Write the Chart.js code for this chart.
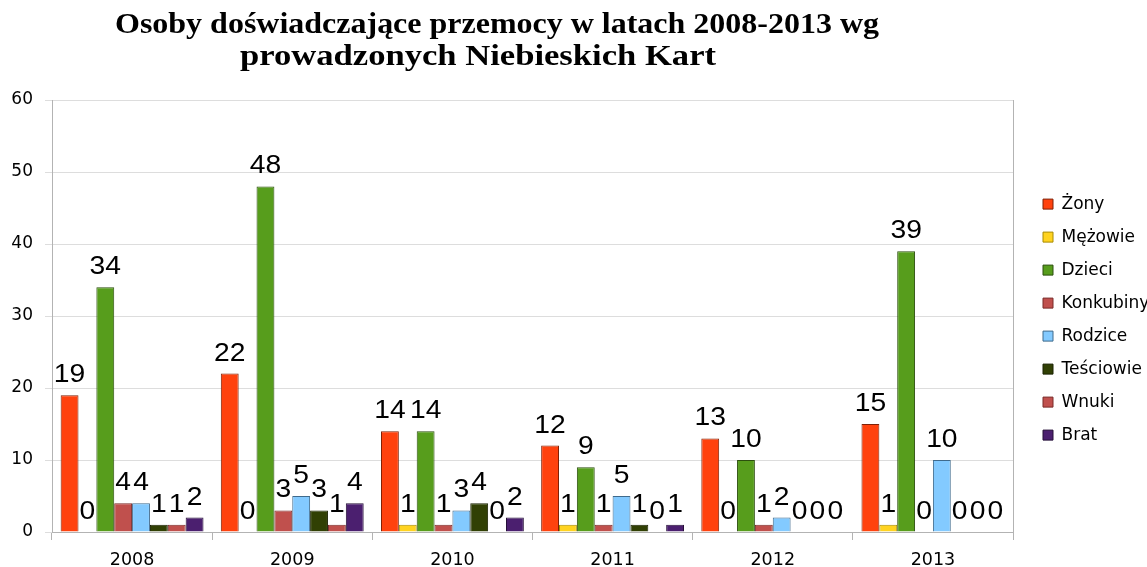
<!DOCTYPE html>
<html><head><meta charset="utf-8">
<script src="https://cdn.jsdelivr.net/npm/chart.js@4.4.1/dist/chart.umd.min.js"></script>
<style>html,body{margin:0;padding:0;background:#fff;} canvas{display:block;}</style>
</head><body>
<canvas id="c" width="1147" height="567"></canvas>
<script>
const titleLines = ['Osoby doświadczające przemocy w latach 2008-2013 wg', 'prowadzonych Niebieskich Kart'];
const years = ['2008', '2009', '2010', '2011', '2012', '2013'];
const seriesNames = ['Żony', 'Mężowie', 'Dzieci', 'Konkubiny', 'Rodzice', 'Teściowie', 'Wnuki', 'Brat'];
const zony      = [19, 22, 14, 12, 13, 15];
const mezowie   = [0, 0, 1, 1, 0, 1];
const dzieci    = [34, 48, 14, 9, 10, 39];
const konkubiny = [4, 3, 1, 1, 1, 0];
const rodzice   = [4, 5, 3, 5, 2, 10];
const tesciowie = [1, 3, 4, 1, 0, 0];
const wnuki     = [1, 1, 0, 0, 0, 0];
const brat      = [2, 4, 2, 1, 0, 0];
const yTickMin = 0, yTickMax = 60, yTickStep = 10;

const seriesValues = [zony, mezowie, dzieci, konkubiny, rodzice, tesciowie, wnuki, brat];
const fills   = ['#ff420e', '#ffd320', '#579d1c', '#c0504d', '#83caff', '#314004', '#c0504d', '#4b1f6f'];
const borders = ['#7f2107', '#a88a00', '#2c4f0e', '#7a2a28', '#3f6a8c', '#1a2202', '#7a2a28', '#261038'];

const titlePlugin = {
  id: 'customTitle',
  afterDraw(chart) {
    const ctx = chart.ctx;
    const specs = [{left: 115, width: 764, base: 33}, {left: 240, width: 476, base: 65}];
    ctx.save();
    ctx.font = 'bold 30px "Liberation Serif"';
    ctx.fillStyle = '#000';
    ctx.textBaseline = 'alphabetic';
    ctx.textAlign = 'left';
    titleLines.forEach((t, i) => {
      const s = specs[i];
      const w = ctx.measureText(t).width;
      ctx.save();
      ctx.translate(s.left, s.base);
      ctx.scale(s.width / w, 1);
      ctx.fillText(t, 0, 0);
      ctx.restore();
    });
    ctx.restore();
  }
};

const valueLabels = {
  id: 'valueLabels',
  afterDatasetsDraw(chart) {
    const ctx = chart.ctx;
    ctx.save();
    ctx.font = '25px "Liberation Sans"';
    ctx.fillStyle = '#000';
    ctx.textAlign = 'center';
    ctx.textBaseline = 'alphabetic';
    chart.data.datasets.forEach((ds, di) => {
      const meta = chart.getDatasetMeta(di);
      meta.data.forEach((bar, i) => {
        ctx.save();
        ctx.translate(bar.x, bar.y - 13);
        ctx.scale(1.13, 1);
        ctx.fillText(String(ds.data[i]), 0, 0);
        ctx.restore();
      });
    });
    ctx.restore();
  }
};

Chart.defaults.font.family = '"DejaVu Sans"';
Chart.defaults.color = '#000';

new Chart(document.getElementById('c'), {
  type: 'bar',
  data: {
    labels: years,
    datasets: seriesNames.map((name, i) => ({
      label: name,
      data: seriesValues[i],
      backgroundColor: fills[i],
      borderColor: borders[i],
      borderWidth: 1,
      categoryPercentage: 0.892,
      barPercentage: 1.0,
      yAxisID: 'y'
    }))
  },
  options: {
    responsive: false,
    animation: false,
    devicePixelRatio: 1,
    layout: {padding: {top: 100, left: 0, right: 0, bottom: 0}},
    plugins: {
      title: {display: false},
      tooltip: {enabled: false},
      legend: {
        display: true,
        position: 'right',
        fullSize: false,
        align: 'center',
        maxWidth: 120,
        title: {display: true, text: '', font: {size: 1}, padding: {top: 3, bottom: 3}},
        labels: {
          font: {family: '"DejaVu Sans"', size: 17},
          color: '#000',
          boxWidth: 10,
          boxHeight: 10,
          padding: 16
        }
      }
    },
    scales: {
      x: {
        grid: {
          display: true,
          offset: true,
          drawOnChartArea: true,
          color: c => (c.index === undefined ? '#b3b3b3' : 'rgba(0,0,0,0)'),
          tickColor: '#b3b3b3',
          tickLength: 8
        },
        border: {display: true, color: '#b3b3b3'},
        ticks: {font: {family: '"DejaVu Sans"', size: 17.5}, color: '#000', padding: 10},
        afterFit(s) { s.height = 35; }
      },
      y: {
        min: yTickMin,
        max: yTickMax,
        ticks: {stepSize: yTickStep, font: {family: '"DejaVu Sans"', size: 17}, color: '#000', padding: 12},
        grid: {color: '#dddddd', tickColor: '#dddddd', tickLength: 7},
        border: {display: true, color: '#b3b3b3'},
        afterFit(s) { s.width = 52; }
      },
      y2: {
        position: 'right',
        display: true,
        grid: {display: false},
        border: {display: false},
        ticks: {display: false},
        afterFit(s) { s.width = 14; }
      }
    }
  },
  plugins: [titlePlugin, valueLabels]
});
</script>
</body></html>
